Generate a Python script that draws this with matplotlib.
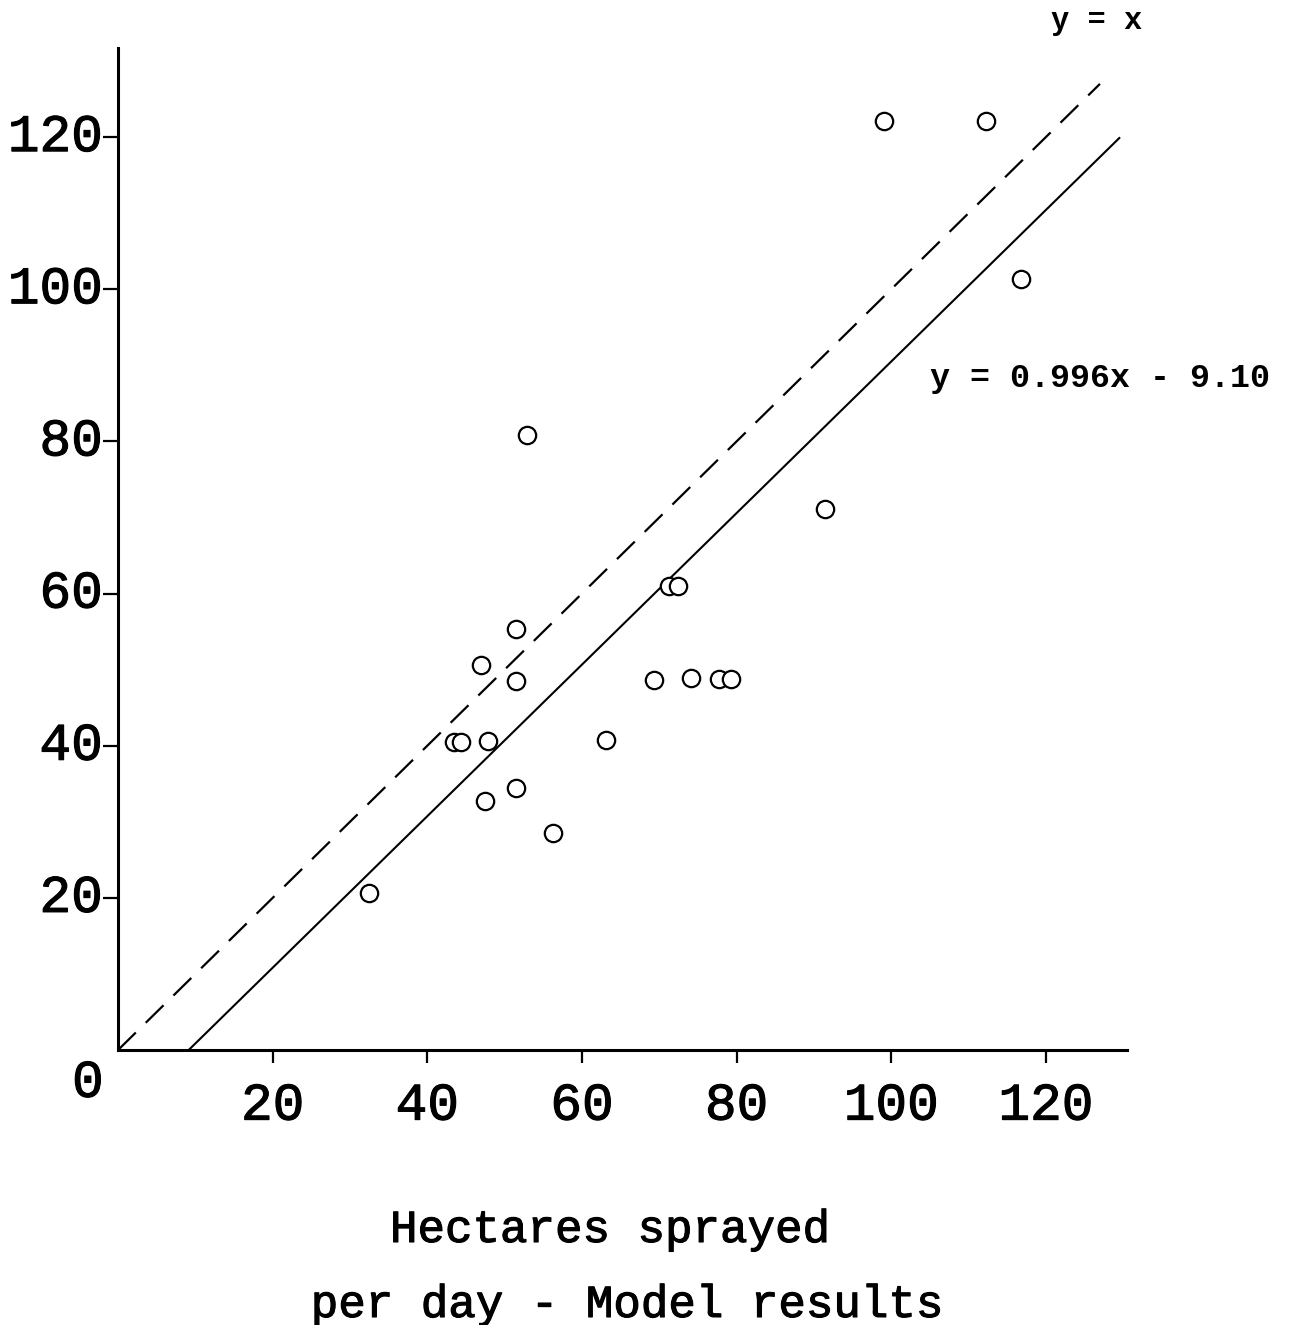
import matplotlib
matplotlib.use("Agg")
import matplotlib.pyplot as plt
import matplotlib.patheffects as pe

# Hectares sprayed per day: model results (x) vs observed (y)
model_ha = [32.5, 43.4, 44.4, 47.0, 47.5, 47.9, 51.5, 51.5, 51.5, 52.9, 56.3,
            63.1, 69.3, 71.3, 72.4, 74.1, 77.7, 79.3, 91.5, 99.1, 112.3, 116.8]
observed_ha = [20.6, 40.5, 40.5, 50.6, 32.7, 40.6, 55.3, 48.5, 34.4, 80.9, 28.5,
               40.7, 48.6, 61.0, 61.0, 48.9, 48.8, 48.8, 71.1, 122.1, 122.1, 101.4]

# regression line y = 0.996x - 9.10 and the identity line
slope = 0.996
intercept = -9.10
identity_x = [0.0, 127.0]
fit_x = [-intercept / slope, 129.5]

ticks = [20, 40, 60, 80, 100, 120]

plt.rcParams["font.family"] = ["Liberation Mono", "DejaVu Sans Mono"]
plt.rcParams["lines.scale_dashes"] = False

# slightly heavier strokes for the typewriter look
thick = [pe.withStroke(linewidth=0.8, foreground="black")]

fig = plt.figure(figsize=(12.91, 13.25), dpi=100)
ax = fig.add_axes([0.0914, 0.2075, 0.7816, 0.7562])

ax.plot(identity_x, identity_x, color="black", lw=1.6, linestyle=(0, (18, 10)))
fit_y = [slope * v + intercept for v in fit_x]
ax.plot(fit_x, fit_y, color="black", lw=1.5)
ax.plot(model_ha, observed_ha, linestyle="none", marker="o", markersize=12.5,
        markerfacecolor="white", markeredgecolor="black", markeredgewidth=1.6)

ax.set_xlim(0, 130.5)
ax.set_ylim(0, 131.7)
for side in ["top", "right"]:
    ax.spines[side].set_visible(False)
for side in ["left", "bottom"]:
    ax.spines[side].set_linewidth(2.2)

ax.set_xticks(ticks)
ax.set_yticks(ticks)
ax.set_xticklabels([str(t) for t in ticks], fontsize=38)
ax.set_yticklabels([str(t) for t in ticks], fontsize=38)
for lab in ax.get_xticklabels() + ax.get_yticklabels():
    lab.set_path_effects(thick)
ax.tick_params(axis="x", direction="out", length=9, width=1.6, pad=13)
ax.tick_params(axis="y", direction="out", length=11, width=1.6, pad=0)
for lab in ax.get_yticklabels():
    lab.set_va("center")

ax.text(-3.9, -4.3, "0", fontsize=38, ha="center", va="center",
        clip_on=False, path_effects=thick)

ax.text(126.6, 135.3, "y = x", fontsize=22, fontweight="bold", ha="center",
        va="center", clip_on=False)
ax.text(105.0, 88.3, "y = 0.996x - 9.10", fontsize=24, fontweight="bold",
        ha="left", va="center", clip_on=False)

fig.text(0.4725, 0.0717, "Hectares sprayed", fontsize=33,
         ha="center", va="center", path_effects=thick)
fig.text(0.4857, 0.0151, "per day - Model results", fontsize=33,
         ha="center", va="center", path_effects=thick)

fig.savefig("out.png", dpi=100)
